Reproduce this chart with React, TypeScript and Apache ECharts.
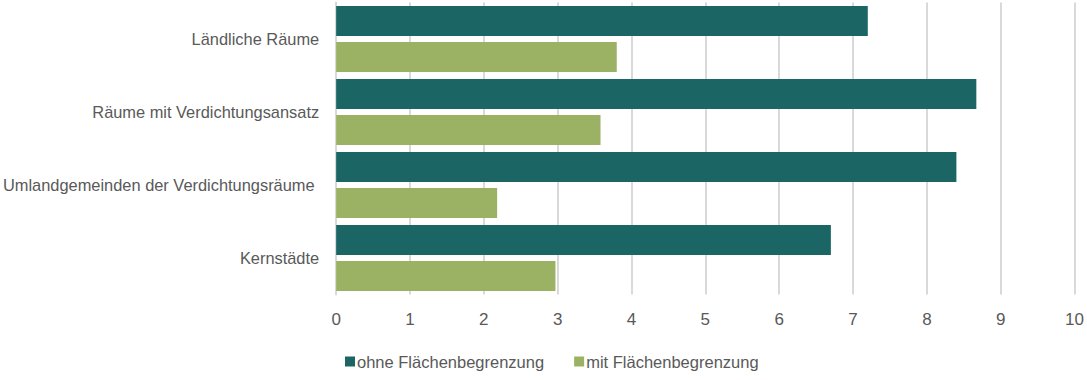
import React, { useEffect, useRef } from "react";
import * as echarts from "echarts";

const categories = [
  "Ländliche Räume",
  "Räume mit Verdichtungsansatz",
  "Umlandgemeinden der Verdichtungsräume ",
  "Kernstädte",
];
const seriesNames = ["ohne Flächenbegrenzung", "mit Flächenbegrenzung"];
const ohneValues = [7.2, 8.67, 8.4, 6.7];
const mitValues = [3.8, 3.58, 2.18, 2.97];
const colors = ["#1b6664", "#9bb264"];

export default function App() {
  const ref = useRef<HTMLDivElement>(null);
  useEffect(() => {
    if (!ref.current) return;
    const chart = echarts.init(ref.current, undefined, { renderer: "svg" });
    chart.setOption({
      animation: false,
      textStyle: { fontFamily: "Liberation Sans, Arial, sans-serif" },
      grid: { left: 335, right: 10, top: 2.5, height: 292, containLabel: false },
      legend: {
        data: seriesNames,
        bottom: 5,
        left: 340,
        itemWidth: 10,
        itemHeight: 10,
        itemGap: 30,
        icon: "rect",
        textStyle: { color: "#595959", fontSize: 16.5, padding: [0, 0, 0, -3] },
      },
      xAxis: {
        type: "value",
        min: 0,
        max: 10,
        interval: 1,
        axisLine: { show: false },
        axisTick: { show: false },
        splitLine: { lineStyle: { color: "#d9d9d9", width: 2 } },
        axisLabel: {
          color: "#595959",
          fontSize: 17,
          margin: 16,
        },
      },
      yAxis: {
        type: "category",
        data: categories,
        inverse: true,
        axisLine: { show: true, lineStyle: { color: "#d9d9d9", width: 2 } },
        axisTick: { show: false },
        axisLabel: { color: "#595959", fontSize: 16.4, margin: 17 },
      },
      series: [
        {
          name: seriesNames[0],
          type: "bar",
          data: ohneValues,
          itemStyle: { color: colors[0] },
          barGap: "20%",
          barCategoryGap: "9.6%",
        },
        {
          name: seriesNames[1],
          type: "bar",
          data: mitValues,
          itemStyle: { color: colors[1] },
          barGap: "20%",
          barCategoryGap: "9.6%",
        },
      ],
    });
    return () => chart.dispose();
  }, []);
  return <div ref={ref} style={{ width: 1087, height: 380, position: "absolute", left: 0, top: 0 }} />;
}
